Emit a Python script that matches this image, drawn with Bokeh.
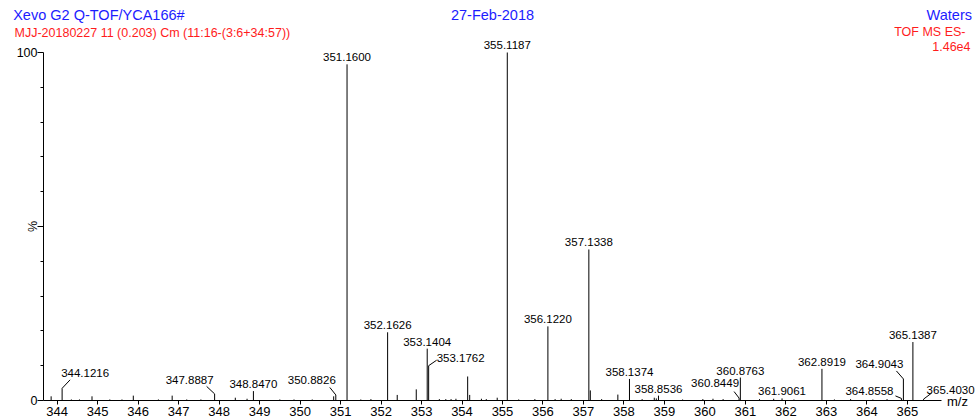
import math
from bokeh.plotting import figure
from bokeh.models import ColumnDataSource, Range1d, FixedTicker, Label, LabelSet
from bokeh.embed import file_html
from bokeh.resources import INLINE
from bokeh.core.properties import value

# ---------------- data ----------------
# unlabelled (small) peaks: m/z and relative intensity (%)
small_mz = [343.85, 344.35, 344.55, 344.86, 345.30, 345.60, 345.88, 346.50, 346.84, 347.20,
            347.55, 348.40, 348.69, 349.50, 349.85, 350.30, 350.83, 351.50, 351.75, 352.40,
            352.87, 353.44, 353.60, 353.73, 353.85, 354.14, 354.19, 354.48, 354.60, 354.87,
            355.40, 355.80, 356.30, 356.45, 356.70, 357.17, 357.45, 357.85, 358.45, 358.75,
            358.80, 359.45, 359.95, 360.20, 360.45, 361.35, 361.70, 362.20, 363.20, 363.60,
            364.15, 364.50]
small_pct = [1.2, 0.3, 0.3, 1.2, 0.3, 0.3, 1.4, 0.3, 1.4, 0.3,
             0.3, 0.8, 0.5, 0.3, 0.3, 0.3, 1.2, 0.3, 0.4, 1.6,
             3.2, 0.4, 0.4, 0.4, 0.5, 6.9, 1.6, 0.5, 0.4, 0.8,
             0.3, 0.4, 0.4, 0.5, 0.4, 2.9, 0.4, 1.7, 0.4, 0.8,
             0.6, 0.3, 0.4, 0.5, 0.4, 0.4, 0.5, 0.3, 0.3, 0.4,
             0.3, 0.4]

# labelled peaks
label_mz = [344.1216, 347.8887, 348.8470, 350.8826, 351.1600, 352.1626, 353.1404, 353.1762,
            355.1187, 356.1220, 357.1338, 358.1374, 358.8536, 360.8449, 360.8763, 361.9061,
            362.8919, 364.8558, 364.9043, 365.1387, 365.4030]
label_pct = [3.5, 1.9, 2.7, 1.6, 96.6, 19.6, 14.9, 10.0,
             100.0, 21.3, 43.4, 6.2, 1.4, 0.7, 6.6, 0.6,
             9.1, 0.6, 6.2, 16.8, 0.4]
label_text = ["344.1216", "347.8887", "348.8470", "350.8826", "351.1600", "352.1626", "353.1404",
              "353.1762", "355.1187", "356.1220", "357.1338", "358.1374", "358.8536", "360.8449",
              "360.8763", "361.9061", "362.8919", "364.8558", "364.9043", "365.1387", "365.4030"]

x_ticks = list(range(344, 366))
y_ticks = [0, 50, 100]
y_minor = [10, 20, 30, 40, 60, 70, 80, 90]

# ---------------- layout (pixels) ----------------
# label centre offsets from bar top (px), connector end offsets (px)
lab_dx = [23, -25, 0, -24, 0, 0, 0, 32, 0, 0, 0, 0, 0, -24, 0, 0, 0, -32, -24, 0, 27]
lab_up = [15, 14, 7, 15, 7, 7.5, 7, 7.5, 7.5, 7, 7.5, 7, 6.5, 15, 7, 7, 7, 7, 14.5, 7.5, 9]
con_dx = [8, -8, 0, -6, 0, 0, 0, 8, 0, 0, 0, 0, 0, -5, 0, 0, 0, -6, -7, 0, 8]
con_up = [8.5, 7.5, 0, 7.5, 0, 0, 0, 5.5, 0, 0, 0, 0, 0, 6.5, 0, 0, 0, 2.5, 8, 0, 6]

W, H = 975, 418
SX = 40.48                 # px per m/z unit
SY = 3.48                  # px per %
X_AXIS_PX = 400            # page y of the 0 % line
TICK344_PX = 56.7          # page x of the 344 tick
AXIS_LEFT_PX = 43          # page x of the y axis
AXIS_RIGHT_PX = 941        # page x where the m/z axis line ends


def mz_at(px):
    return 344 + (px - TICK344_PX) / SX


def pct_at(py):
    return (X_AXIS_PX - py) / SY


FONT = "Liberation Sans"
BLUE = "#1c1cff"
RED = "#ff1c1c"

p = figure(width=W, height=H, output_backend="svg", toolbar_location=None,
           x_range=Range1d(mz_at(0), mz_at(W)), y_range=Range1d(pct_at(H), pct_at(0)),
           min_border=0, min_border_left=0, min_border_right=0,
           min_border_top=0, min_border_bottom=0)
p.outline_line_color = None
p.grid.visible = False
p.background_fill_color = "white"
p.border_fill_color = "white"

x_left = mz_at(AXIS_LEFT_PX)
x_right = mz_at(AXIS_RIGHT_PX)

# axes (drawn at fixed data locations inside the frame)
xa = p.xaxis[0]
xa.fixed_location = 0
xa.ticker = FixedTicker(ticks=x_ticks, minor_ticks=[])
xa.axis_line_color = None
xa.major_tick_out = 4
xa.major_tick_in = 0
xa.minor_tick_out = 0
xa.major_label_standoff = 2
xa.major_label_text_font = FONT
xa.major_label_text_font_size = "13px"
xa.major_label_text_color = "black"
xa.major_tick_line_color = "black"

ya = p.yaxis[0]
ya.fixed_location = x_left
ya.ticker = FixedTicker(ticks=y_ticks, minor_ticks=y_minor)
ya.major_label_overrides = {50: ""}
ya.axis_line_color = None
ya.major_tick_out = 6
ya.major_tick_in = 0
ya.minor_tick_out = 3
ya.minor_tick_in = 0
ya.major_label_standoff = 0
ya.major_label_text_font = FONT
ya.major_label_text_font_size = "12.5px"
ya.major_label_text_color = "black"
ya.minor_tick_line_color = "black"

# axis lines
p.segment(x0=[x_left, x_left], y0=[0, 0], x1=[x_left, x_right], y1=[100, 0],
          line_color="black", line_width=1)

# bars
p.segment(x0=small_mz, y0=[0] * len(small_mz), x1=small_mz, y1=small_pct,
          line_color="black", line_width=1)
p.segment(x0=label_mz, y0=[0] * len(label_mz), x1=label_mz, y1=label_pct,
          line_color="black", line_width=1)

# connectors
cx0, cy0, cx1, cy1 = [], [], [], []
for m, h, dx, du in zip(label_mz, label_pct, con_dx, con_up):
    if dx != 0 or du != 0:
        cx0.append(m)
        cy0.append(h)
        cx1.append(m + dx / SX)
        cy1.append(h + du / SY)
p.segment(x0=cx0, y0=cy0, x1=cx1, y1=cy1, line_color="black", line_width=1)

# peak labels
src = ColumnDataSource(dict(x=label_mz, y=label_pct, text=label_text,
                            xo=lab_dx, yo=lab_up))
labels = LabelSet(x="x", y="y", text="text", source=src, x_offset="xo", y_offset="yo",
                  text_align="center", text_baseline="middle",
                  text_font=value(FONT), text_font_size="11.5px", text_color="black")
p.add_layout(labels)


# header and axis texts
def add_label(px, py, text, color, size, align, angle=0.0):
    p.add_layout(Label(x=mz_at(px), y=pct_at(py), text=text, text_color=color,
                       text_font=FONT, text_font_size=size, text_align=align,
                       text_baseline="middle", angle=angle))


add_label(12.7, 14, "Xevo G2 Q-TOF/YCA166#", BLUE, "14.5px", "left")
add_label(14, 32.3, "MJJ-20180227 11 (0.203) Cm (11:16-(3:6+34:57))", RED, "12.5px", "left")
add_label(492, 14, "27-Feb-2018", BLUE, "14.5px", "center")
add_label(971.5, 14, "Waters", BLUE, "14.5px", "right")
add_label(965, 31.7, "TOF MS ES-", RED, "12.5px", "right")
add_label(970, 45.7, "1.46e4", RED, "12.5px", "right")
add_label(32, X_AXIS_PX - 50 * SY, "%", "black", "12.5px", "center", math.pi / 2)
add_label(957, 401, "m/z", "black", "13px", "center")

open("out.html", "w").write(file_html(p, INLINE))
